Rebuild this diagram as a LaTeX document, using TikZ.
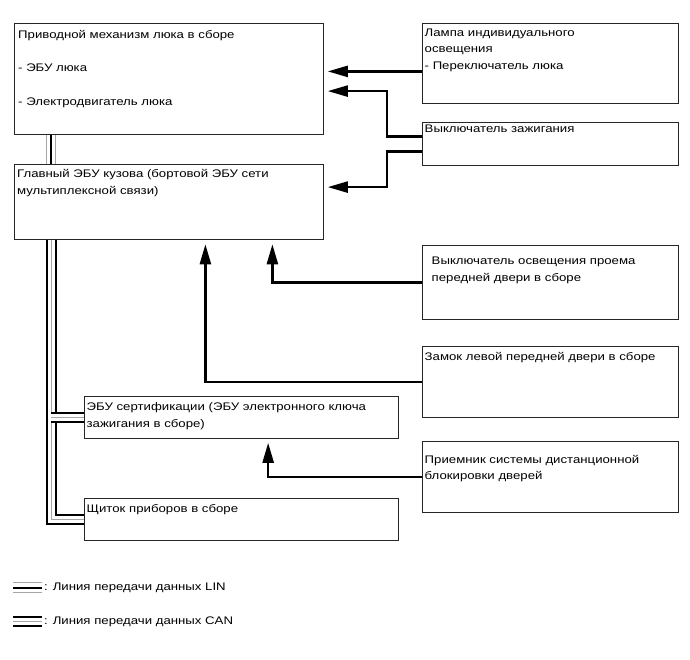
\documentclass[tikz,border=0pt]{standalone}
\usepackage{fontspec}
\setmainfont[FakeStretch=1.2]{Liberation Sans}
\usetikzlibrary{arrows.meta, positioning, calc}

\tikzset{
  blk/.style={draw=black!85, line width=0.8pt, anchor=north west, inner sep=0pt},
  txt/.style={anchor=north west, align=left, inner sep=0pt, font=\fontsize{11}{16.5}\selectfont},
  sig/.style={line width=2.4pt, -{Triangle[length=20pt,width=11pt]}, shorten >=4pt},
  lin/.style={draw=gray!70, line width=10.5pt, postaction={draw=white, line width=8.5pt}, postaction={draw=black, line width=2pt}},
  can/.style={draw=black, line width=11pt, postaction={draw=white, line width=7pt}, postaction={draw=gray!70, line width=1pt}},
}

\begin{document}
\begin{tikzpicture}[x=1pt, y=-1pt]
\useasboundingbox (0,0) rectangle (690,660);

\node[blk, minimum width=309pt, minimum height=111pt] (drv) at (14,23) {};
\node[blk, minimum width=309pt, minimum height=75pt] (bcm) at (14,164.5) {};
\node[blk, minimum width=256.5pt, minimum height=80pt] (lamp) at (421.5,23.3) {};
\node[blk, minimum width=256.5pt, minimum height=43.5pt] (ign) at (421.5,121.7) {};
\node[blk, minimum width=256.5pt, minimum height=74pt] (doorsw) at (421.5,245) {};
\node[blk, minimum width=256.5pt, minimum height=71pt] (lock) at (421.5,346) {};
\node[blk, minimum width=314.5pt, minimum height=42pt] (cert) at (83.5,396) {};
\node[blk, minimum width=256.5pt, minimum height=71pt] (rx) at (421.5,441) {};
\node[blk, minimum width=314.5pt, minimum height=42pt] (meter) at (83.5,498) {};

\node[txt] (drvtxt) at ([shift={(4,7)}]drv.north west) {Приводной механизм люка в сборе\\[17pt]- ЭБУ люка\\[17pt]- Электродвигатель люка};
\node[txt] (bcmtxt) at ([shift={(3,5)}]bcm.north west) {Главный ЭБУ кузова (бортовой ЭБУ сети\\мультиплексной связи)};
\node[txt] (lamptxt) at ([shift={(3,5.4)}]lamp.north west) {Лампа индивидуального\\освещения\\- Переключатель люка};
\node[txt] (igntxt) at ([shift={(3,3)}]ign.north west) {Выключатель зажигания};
\node[txt] (doorswtxt) at ([shift={(10,12)}]doorsw.north west) {Выключатель освещения проема\\передней двери в сборе};
\node[txt] (locktxt) at ([shift={(3,6)}]lock.north west) {Замок левой передней двери в сборе};
\node[txt] (certtxt) at ([shift={(3,6.7)}]cert.north west) {ЭБУ сертификации (ЭБУ электронного ключа\\зажигания в сборе)};
\node[txt] (rxtxt) at ([shift={(3,14)}]rx.north west) {Приемник системы дистанционной\\блокировки дверей};
\node[txt] (metertxt) at ([shift={(3,6)}]meter.north west) {Щиток приборов в сборе};

\coordinate (jx) at (387,0);
\coordinate (p1) at ([yshift=-7.7pt]lamp.west);
\coordinate (p2) at ([yshift=7.5pt]ign.west);
\coordinate (p3) at ([yshift=-7.5pt]ign.west);
\coordinate (q2) at ([yshift=-12.2pt]drv.east);
\coordinate (q3) at ([yshift=15.3pt]bcm.east);
\draw[sig] (p1) -- (p1 -| drv.east);
\draw[sig] (p2) -- (p2 -| jx) |- (q2);
\draw[sig] (p3) -- (p3 -| jx) |- (q3);
\draw[sig] (doorsw.west) -| ([xshift=103.5pt]bcm.south);
\draw[sig] (lock.west) -| ([xshift=36.5pt]bcm.south);
\draw[sig] (rx.west) -| ([xshift=27pt]cert.south);

\coordinate (bx) at (51,0);
\draw[lin] (bx |- drv.south) -- (bx |- bcm.north);
\draw[can] (bx |- bcm.south) |- (meter.west);
\draw[can] (bx |- cert.west) -- (cert.west);

\node[txt] (lintxt) at (44,582.5) {: Линия передачи данных LIN};
\node[txt] (cantxt) at (44,616.5) {: Линия передачи данных CAN};
\coordinate (linkey) at (13,587.5);
\coordinate (cankey) at (13,621);
\draw[lin] (linkey) -- ([xshift=-2pt]linkey -| lintxt.west);
\draw[can] (cankey) -- ([xshift=-2pt]cankey -| cantxt.west);
\end{tikzpicture}
\end{document}
